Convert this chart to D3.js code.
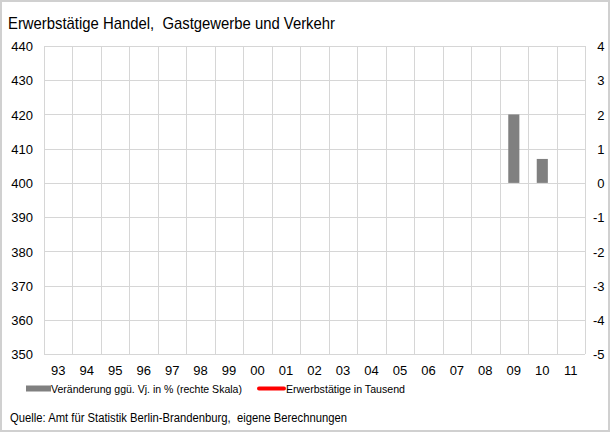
<!DOCTYPE html>
<html>
<head>
<meta charset="utf-8">
<script src="https://cdn.jsdelivr.net/npm/d3@7"></script>
<style>
  html, body { margin: 0; padding: 0; background: #fff; }
  svg { display: block; font-family: "Liberation Sans", Arial, sans-serif; }
</style>
</head>
<body>
<svg id="chart" width="611" height="434"></svg>
<script>
// Years shown on the category axis
const years = ["93","94","95","96","97","98","99","00","01","02","03","04","05","06","07","08","09","10","11"];
// Change vs. previous year in % (right scale)
const changePct = [null,null,null,null,null,null,null,null,null,null,null,null,null,null,null,null,2.0,0.7,null];
// Persons employed in thousands (left scale)
const employed = [null,null,null,null,null,null,null,null,null,null,null,null,null,null,null,null,null,null,null];
// Axis ticks
const leftTicks = [350,360,370,380,390,400,410,420,430,440];
const rightTicks = [-5,-4,-3,-2,-1,0,1,2,3,4];

const titleText = "Erwerbstätige Handel,  Gastgewerbe und Verkehr";
const legendBar = "Veränderung ggü. Vj. in % (rechte Skala)";
const legendLine = "Erwerbstätige in Tausend";
const sourceText = "Quelle: Amt für Statistik Berlin-Brandenburg,  eigene Berechnungen";

const svg = d3.select("#chart");
const W = 611, H = 434;
const plot = { left: 44, right: 585, top: 46, bottom: 354 };
const gridColor = "#d6d6d6";
const fontFam = "'Liberation Sans', Arial, sans-serif";

// Outer frame
svg.append("rect")
  .attr("x", 1).attr("y", 1).attr("width", W - 3).attr("height", H - 4)
  .attr("fill", "#fff").attr("stroke", "#d0d0d0").attr("stroke-width", 2);

// Title (narrow setting)
svg.append("text")
  .attr("x", 8).attr("y", 29)
  .attr("font-size", 17).attr("fill", "#000")
  .attr("textLength", 327).attr("lengthAdjust", "spacingAndGlyphs")
  .style("white-space", "pre")
  .text(titleText);

const x = d3.scaleBand().domain(years).range([plot.left, plot.right]).padding(0);
const yL = d3.scaleLinear().domain([350, 440]).range([plot.bottom, plot.top]);
const yR = d3.scaleLinear().domain([-5, 4]).range([plot.bottom, plot.top]);

// Horizontal grid lines
svg.append("g").selectAll("line").data(leftTicks).join("line")
  .attr("x1", plot.left).attr("x2", plot.right)
  .attr("y1", d => Math.round(yL(d)) + 0.5).attr("y2", d => Math.round(yL(d)) + 0.5)
  .attr("stroke", gridColor).attr("stroke-width", 1);

// Vertical grid lines at category boundaries
const bounds = years.map(d => x(d)).concat([plot.right]);
svg.append("g").selectAll("line").data(bounds).join("line")
  .attr("x1", d => Math.round(d) + 0.5).attr("x2", d => Math.round(d) + 0.5)
  .attr("y1", plot.top).attr("y2", plot.bottom)
  .attr("stroke", gridColor).attr("stroke-width", 1);

// Bars (right scale)
const barW = x.bandwidth() * 0.39;
svg.append("g").selectAll("rect")
  .data(years.map((y, i) => ({ year: y, v: changePct[i] })).filter(d => d.v != null))
  .join("rect")
  .attr("x", d => x(d.year) + (x.bandwidth() - barW) / 2)
  .attr("width", barW)
  .attr("y", d => Math.min(yR(d.v), yR(0)))
  .attr("height", d => Math.abs(yR(d.v) - yR(0)))
  .attr("fill", "#808080");

// Line (left scale)
const line = d3.line()
  .defined(d => d.v != null)
  .x(d => x(d.year) + x.bandwidth() / 2)
  .y(d => yL(d.v));
svg.append("path")
  .datum(years.map((y, i) => ({ year: y, v: employed[i] })))
  .attr("d", line)
  .attr("fill", "none").attr("stroke", "#ff0000").attr("stroke-width", 3);

// Left axis labels
const axisL = d3.axisLeft(yL).tickValues(leftTicks).tickSize(0).tickPadding(11)
  .tickFormat(d => String(d));
const gL = svg.append("g").attr("transform", `translate(${plot.left},0.5)`).call(axisL);
gL.select(".domain").remove();
gL.selectAll("text").attr("font-size", 13).attr("fill", "#000").attr("font-family", fontFam);

// Right axis labels (right-aligned, plain hyphen for negatives)
const axisR = d3.axisRight(yR).tickValues(rightTicks).tickSize(0).tickPadding(0)
  .tickFormat(d => String(d));
const gR = svg.append("g").attr("transform", `translate(604.5,0.5)`).call(axisR);
gR.select(".domain").remove();
gR.selectAll("text").attr("font-size", 13).attr("fill", "#000").attr("text-anchor", "end")
  .attr("font-family", fontFam);

// Category axis labels
const axisB = d3.axisBottom(x).tickSize(0).tickPadding(12);
const gB = svg.append("g").attr("transform", `translate(0,${plot.bottom})`).call(axisB);
gB.select(".domain").remove();
gB.selectAll("text").attr("font-size", 13).attr("fill", "#000").attr("font-family", fontFam);

// Legend
const lg = svg.append("g");
lg.append("rect").attr("x", 26).attr("y", 385.5).attr("width", 25).attr("height", 6).attr("fill", "#808080");
lg.append("text").attr("x", 51).attr("y", 393)
  .attr("font-size", 11.5).attr("textLength", 191).attr("lengthAdjust", "spacingAndGlyphs")
  .text(legendBar);
lg.append("line").attr("x1", 259).attr("x2", 284).attr("y1", 388.5).attr("y2", 388.5)
  .attr("stroke", "#ff0000").attr("stroke-width", 4).attr("stroke-linecap", "round");
lg.append("text").attr("x", 286).attr("y", 393)
  .attr("font-size", 11.5).attr("textLength", 119).attr("lengthAdjust", "spacingAndGlyphs")
  .text(legendLine);

// Source note
svg.append("text")
  .attr("x", 10).attr("y", 421.5)
  .attr("font-size", 12.5).attr("fill", "#000")
  .attr("textLength", 337).attr("lengthAdjust", "spacingAndGlyphs")
  .style("white-space", "pre")
  .text(sourceText);
</script>
</body>
</html>
